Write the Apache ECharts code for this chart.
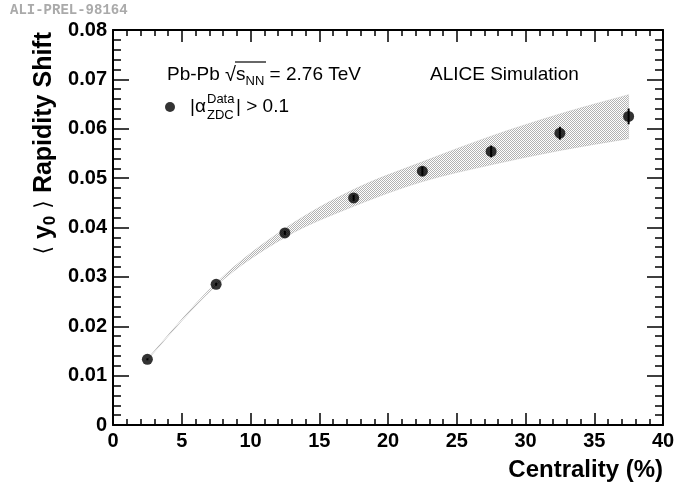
<!DOCTYPE html>
<html><head><meta charset="utf-8">
<script src="https://cdn.jsdelivr.net/npm/echarts@6/dist/echarts.min.js"></script>
<style>html,body{margin:0;padding:0;background:#fff}#c{width:679px;height:489px}</style>
</head><body><div id="c"></div>
<script>
// ---- data ----
const centrality    = [2.5, 7.5, 12.5, 17.5, 22.5, 27.5, 32.5, 37.5];
const rapidityShift = [0.0133, 0.0285, 0.0389, 0.0460, 0.0514, 0.0554, 0.0591, 0.0625];
const statError     = [0.0002, 0.0003, 0.0004, 0.0006, 0.0009, 0.0012, 0.0013, 0.0016];
const bandLow       = [0.0132, 0.0282, 0.0380, 0.0443, 0.0493, 0.0527, 0.0556, 0.0580];
const bandHigh      = [0.0134, 0.0288, 0.0398, 0.0477, 0.0533, 0.0585, 0.0630, 0.0669];
const xTickLabels   = ['0','5','10','15','20','25','30','35','40'];
const yTickLabels   = ['0','0.01','0.02','0.03','0.04','0.05','0.06','0.07','0.08'];

const FONT = '"Liberation Sans", Arial, Helvetica, sans-serif';

// hatch pattern for the simulation band
const pc = document.createElement('canvas'); pc.width = 2; pc.height = 2;
const pctx = pc.getContext('2d');
pctx.fillStyle = '#ffffff'; pctx.fillRect(0, 0, 2, 2);
pctx.fillStyle = '#b2b2b2';
pctx.fillRect(0, 0, 1, 1); pctx.fillRect(1, 1, 1, 1);
const bandPattern = { image: pc, repeat: 'repeat' };

const chart = echarts.init(document.getElementById('c'), null, { renderer: 'canvas' });

function xAxisCfg(pos, labels) {
  return {
    type: 'value', min: 0, max: 40, interval: 5, position: pos, z: 5,
    axisLine: { show: true, onZero: false, lineStyle: { color: '#000', width: 2 } },
    axisTick: { show: true, inside: true, length: 12, lineStyle: { color: '#000', width: 1.5 } },
    minorTick: { show: true, splitNumber: 5, length: 6, lineStyle: { color: '#000', width: 1.5 } },
    splitLine: { show: false },
    axisLabel: {
      show: labels, margin: 6, color: '#000', fontFamily: FONT, fontSize: 20, fontWeight: 'bold',
      formatter: v => xTickLabels[Math.round(v / 5)]
    }
  };
}
function yAxisCfg(pos, labels) {
  return {
    type: 'value', min: 0, max: 0.08, interval: 0.01, position: pos, z: 5,
    axisLine: { show: true, onZero: false, lineStyle: { color: '#000', width: 2 } },
    axisTick: { show: true, inside: true, length: 16, lineStyle: { color: '#000', width: 1.5 } },
    minorTick: { show: true, splitNumber: 5, length: 8, lineStyle: { color: '#000', width: 1.5 } },
    splitLine: { show: false },
    axisLabel: {
      show: labels, margin: 6, color: '#000', fontFamily: FONT, fontSize: 20, fontWeight: 'bold',
      formatter: v => yTickLabels[Math.round(v / 0.01)]
    }
  };
}

// Catmull-Rom -> cubic bezier path through pixel points
function curveSegments(pts) {
  let d = '';
  for (let i = 0; i < pts.length - 1; i++) {
    const p0 = pts[Math.max(i - 1, 0)], p1 = pts[i], p2 = pts[i + 1], p3 = pts[Math.min(i + 2, pts.length - 1)];
    const c1 = [p1[0] + (p2[0] - p0[0]) / 6, p1[1] + (p2[1] - p0[1]) / 6];
    const c2 = [p2[0] - (p3[0] - p1[0]) / 6, p2[1] - (p3[1] - p1[1]) / 6];
    d += ' C' + c1[0] + ' ' + c1[1] + ' ' + c2[0] + ' ' + c2[1] + ' ' + p2[0] + ' ' + p2[1];
  }
  return d;
}

const bandData = centrality.map((x, i) => [x, bandLow[i], bandHigh[i]]);
const points   = centrality.map((x, i) => [x, rapidityShift[i]]);
const errData  = centrality.map((x, i) => [x, rapidityShift[i], statError[i]]);

chart.setOption({
  animation: false,
  backgroundColor: '#fff',
  grid: { left: 113, right: 16, top: 30, bottom: 64, containLabel: false },
  xAxis: [xAxisCfg('bottom', true), xAxisCfg('top', false)],
  yAxis: [yAxisCfg('left', true), yAxisCfg('right', false)],
  legend: {
    show: true, left: 165, top: 102, padding: 0, itemWidth: 10, itemHeight: 10, itemGap: 0,
    data: [{ name: 'data', icon: 'circle' }],
    formatter: () => '', textStyle: { fontSize: 1 }
  },
  series: [
    {
      name: 'band', type: 'custom', data: bandData, z: 1, silent: true,
      renderItem: (params, api) => {
        if (params.dataIndex !== 0) return null;
        const top = bandData.map(d => api.coord([d[0], d[2]]));
        const bot = bandData.map(d => api.coord([d[0], d[1]])).reverse();
        const pathData = 'M' + top[0][0] + ' ' + top[0][1] + curveSegments(top) +
          ' L' + bot[0][0] + ' ' + bot[0][1] + curveSegments(bot) + ' Z';
        return { type: 'path', shape: { pathData: pathData }, style: { fill: bandPattern, stroke: 'rgba(170,170,170,0.5)', lineWidth: 0.6 } };
      }
    },
    {
      name: 'errors', type: 'custom', data: errData, z: 3,
      renderItem: (params, api) => {
        const x = api.value(0), y = api.value(1), e = api.value(2);
        const p1 = api.coord([x, y - e]), p2 = api.coord([x, y + e]);
        return { type: 'line', shape: { x1: p1[0], y1: p1[1], x2: p2[0], y2: p2[1] },
                 style: { stroke: '#000', lineWidth: 2 } };
      }
    },
    {
      name: 'data', type: 'scatter', data: points, symbol: 'circle', symbolSize: 11,
      itemStyle: { color: '#000' }, z: 4,
      markLine: {
        silent: true, symbol: 'none', label: { show: false },
        lineStyle: { color: '#ff0000', width: 1, type: 'solid' },
        data: [{ yAxis: 0 }]
      }
    }
  ],
  graphic: [
    { type: 'text', x: 10, y: 10, style: { text: 'ALI-PREL-98164', fontFamily: '"Liberation Mono", "DejaVu Sans Mono", monospace', fontWeight: 'bold', fontSize: 14, fill: '#aaaaaa', verticalAlign: 'middle' } },
    { type: 'text', x: 167, y: 75, style: {
        text: '{n|Pb-Pb }{r|√}{n|s}{s|NN}{n| = 2.76 TeV}', verticalAlign: 'middle',
        rich: {
          n: { fontFamily: FONT, fontSize: 19, lineHeight: 26, fill: '#000' },
          r: { fontFamily: FONT, fontSize: 20, lineHeight: 26, fill: '#000' },
          s: { fontFamily: FONT, fontSize: 13, lineHeight: 13, verticalAlign: 'bottom', fill: '#000' }
        } } },
    { type: 'line', shape: { x1: 235, y1: 62, x2: 266, y2: 62 }, style: { stroke: '#000', lineWidth: 1.2 } },
    { type: 'text', x: 430, y: 75, style: { text: 'ALICE Simulation', fontFamily: FONT, fontSize: 19, fill: '#000', verticalAlign: 'middle' } },
    { type: 'text', x: 190, y: 107, style: { text: '|α', fontFamily: FONT, fontSize: 19, fill: '#000', verticalAlign: 'middle' } },
    { type: 'text', x: 207, y: 99, style: { text: 'Data', fontFamily: FONT, fontSize: 13, fill: '#000', verticalAlign: 'middle' } },
    { type: 'text', x: 207, y: 115, style: { text: 'ZDC', fontFamily: FONT, fontSize: 13, fill: '#000', verticalAlign: 'middle' } },
    { type: 'text', x: 236, y: 107, style: { text: '| > 0.1', fontFamily: FONT, fontSize: 19, fill: '#000', verticalAlign: 'middle' } },
    { type: 'text', x: 663, y: 470, style: { text: 'Centrality (%)', fontFamily: FONT, fontSize: 24, fontWeight: 'bold', fill: '#000', align: 'right', verticalAlign: 'middle' } },
    { type: 'text', x: 59, y: 32, rotation: Math.PI / 2, style: {
        text: '{b|⟨ }{t|y}{s|0}{b| ⟩ }{t|Rapidity Shift}', align: 'right', verticalAlign: 'bottom',
        rich: {
          b: { fontFamily: '"DejaVu Sans"', fontSize: 22, lineHeight: 30, fill: '#000' },
          t: { fontFamily: FONT, fontSize: 25, fontWeight: 'bold', lineHeight: 30, fill: '#000' },
          s: { fontFamily: FONT, fontSize: 17, fontWeight: 'bold', lineHeight: 17, verticalAlign: 'bottom', fill: '#000' }
        } } }
  ]
});
</script></body></html>
